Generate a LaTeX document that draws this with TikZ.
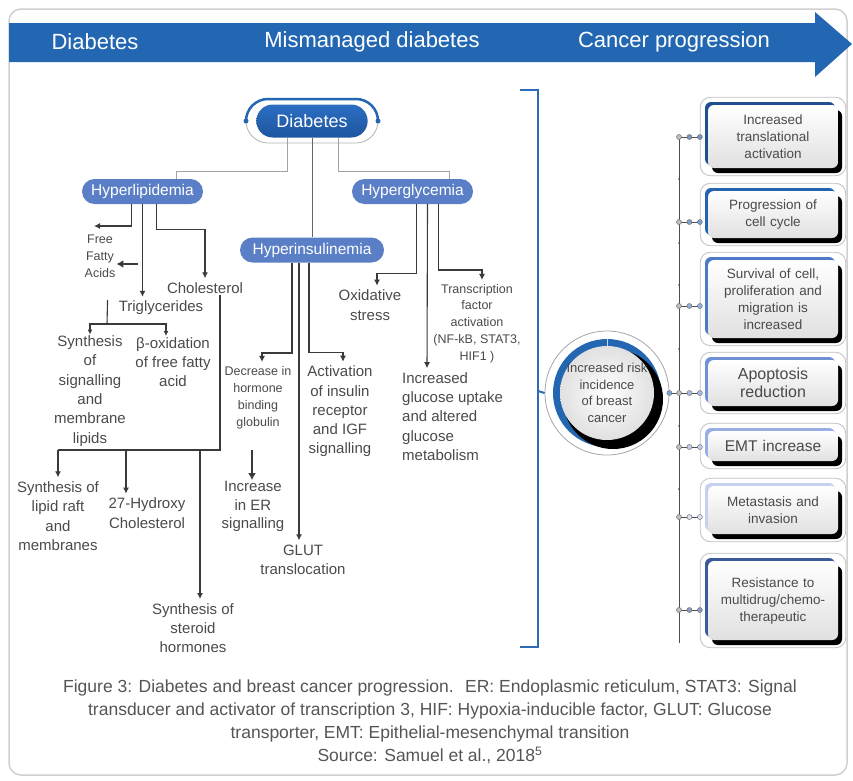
\documentclass[tikz,border=0pt]{standalone}
\usepackage{fontspec}
\setmainfont{Liberation Sans}
\usetikzlibrary{arrows.meta,shapes.misc,shadows,fit}

\definecolor{bandblue}{HTML}{2367B2}
\definecolor{pillblue}{HTML}{5B7FC6}
\definecolor{diabtop}{HTML}{2C6EC2}
\definecolor{diabbot}{HTML}{1D559F}
\definecolor{txtgray}{HTML}{4A4A4A}
\definecolor{arrgray}{HTML}{3A3A3A}
\definecolor{linkgray}{HTML}{A3A3A3}
\definecolor{brkblue}{HTML}{2D6CB5}
\definecolor{capgray}{HTML}{555555}
\definecolor{framegray}{HTML}{D0D0D0}
\definecolor{translc}{HTML}{1F4F8E}
\definecolor{cyclec}{HTML}{2563B0}
\definecolor{survc}{HTML}{4D7BC8}
\definecolor{apopc}{HTML}{6F8FD6}
\definecolor{emtc}{HTML}{98AEE4}
\definecolor{metac}{HTML}{C6D1EF}
\definecolor{resc}{HTML}{3D5A99}

\begin{document}
\begin{tikzpicture}[x=1pt, y=-1pt,
	txt/.style={text=txtgray, align=center, inner sep=1pt, font=\fontsize{15}{19.3}\selectfont},
	small/.style={txt, font=\fontsize{12.5}{17}\selectfont},
	lvl/.style={rounded rectangle, fill=pillblue, text=white, minimum height=25pt, inner sep=2pt, font=\fontsize{15.5}{18}\selectfont},
	link/.style={draw=linkgray, line width=1pt},
	line/.style={draw=arrgray, line width=1.1pt},
	arr/.style={line, -{Latex[length=6pt,width=6pt]}, shorten >=3pt},
	bold arr/.style={draw=arrgray, line width=2pt, -{Latex[length=7pt,width=8pt]}},
	effect/.style={rounded corners=6pt, text width=122pt, minimum width=130pt, align=center, inner sep=2pt,
		top color=white, bottom color=black!12, text=txtgray, font=\fontsize{13.5}{17}\selectfont,
		general shadow={fill=#1, shadow xshift=-3pt, shadow yshift=3pt},
		general shadow={fill=black, shadow xshift=4pt, shadow yshift=-5pt}},
	ring/.style={draw=black!25, line width=0.8pt, rounded corners=10pt, inner xsep=7.5pt, inner ysep=7.5pt},
	dot/.style={circle, draw=black!55, fill=#1, minimum size=5pt, inner sep=0pt, line width=0.5pt},
	tick/.style={draw=black!70, line width=0.7pt},
]
	\useasboundingbox (0,0) rectangle (853,780);
	
	% Frame and heading arrow
	\draw[framegray, line width=1.5pt, rounded corners=12pt] (9,9) rectangle (847,775);
	\fill[bandblue] (9,23) -- (815,23) -- (815,12) -- (852,44) -- (815,77) -- (815,62) -- (9,62) -- cycle;
	\node[text=white, font=\fontsize{22}{26}\selectfont] (hd1) at (95,42) {Diabetes};
	\node[text=white, font=\fontsize{22}{26}\selectfont] (hd2) at (372,42) {Mismanaged diabetes};
	\node[text=white, font=\fontsize{22}{26}\selectfont] (hd3) at (674,42) {Cancer progression};
	
	% Diabetes
	\draw[black!30, line width=0.8pt, rounded corners=22pt] (246,99) rectangle (378,143);
	\draw[bandblue, line width=2.5pt] (246,121) arc[start angle=180, end angle=270, radius=22] -- (356,99) arc[start angle=270, end angle=360, radius=22];
	\fill[bandblue] (246,121) circle (2.5pt) (378,121) circle (2.5pt);
	\node[rounded rectangle, top color=diabtop, bottom color=diabbot, minimum width=118pt, minimum height=33pt, text=white, font=\fontsize{18}{20}\selectfont] (diab) at (312,121) {Diabetes};
	
	\node[lvl, minimum width=125pt] (hlip) at (142.5,191.5) {Hyperlipidemia};
	\node[lvl, minimum width=125pt] (hgly) at (412.5,191.5) {Hyperglycemia};
	\node[lvl, minimum width=148pt] (hins) at (312,250) {Hyperinsulinemia};
	
	\draw[link] ([xshift=-25pt]diab.south) |- ([xshift=34pt,yshift=7pt]hlip.north) -- ([xshift=34pt]hlip.north);
	\draw[link, draw=black!60] (diab.south) -- (hins.north);
	\draw[link] ([xshift=26pt]diab.south) |- ([xshift=37pt,yshift=7pt]hgly.north) -- ([xshift=37pt]hgly.north);
	
	% Hyperlipidemia
	\node[small] (ffa) at (100,256) {Free\\Fatty\\Acids};
	\node[txt] (trig) at (161,308) {Triglycerides};
	\node[txt] (chol) at (205,288) {Cholesterol};
	\node[txt] (sigl) at (90,391) {Synthesis\\of\\signalling\\and\\membrane\\lipids};
	\node[txt] (boxf) at (173,362) {β-oxidation\\of free fatty\\acid};
	\node[txt] (raft) at (58,516) {Synthesis of\\lipid raft\\and\\membranes};
	\node[txt] (hydx) at (147,513) {27-Hydroxy\\Cholesterol};
	\node[txt] (ster) at (193,628) {Synthesis of\\steroid\\hormones};
	
	\coordinate (ffa-in) at (94,226);
	\coordinate (ffa-pt) at (138,264);
	\coordinate (tg-fork) at (107,324);
	\coordinate (ch-fork) at (220,450);
	\coordinate (hx-top) at (126,450);
	
	\draw[line, -{Latex[length=6pt,width=6pt]}] ([xshift=-11pt]hlip.south) |- (ffa-in);
	\draw[bold arr] (ffa-pt) -- (ffa-pt -| ffa.east);
	\draw[arr] (hlip.south) -- (hlip.south |- trig.north);
	\draw[arr] ([xshift=14pt]hlip.south) |- ([yshift=52pt]chol.north) -- (chol.north);
	
	\draw[line] ([xshift=-10pt]trig.north west) -- (tg-fork);
	\draw[line, -{Latex[length=5pt,width=5pt]}] (tg-fork) -| (sigl.north);
	\draw[line, -{Latex[length=5pt,width=5pt]}] (tg-fork) -| ([xshift=-7pt]boxf.north);
	
	\draw[line] ([xshift=15pt]chol.south) |- (ch-fork) -- (ch-fork -| raft.north);
	\draw[arr] (ch-fork -| raft.north) -- (raft.north);
	\draw[arr] (hx-top) -- (hx-top |- hydx.north);
	\draw[arr] ([xshift=-20pt]ch-fork) -- ([xshift=7pt]ster.north);
	
	% Hyperinsulinemia
	\node[small] (shbg) at (258,397.5) {Decrease in\\hormone\\binding\\globulin};
	\node[txt, font=\fontsize{15}{18.5}\selectfont] (iger) at (253,506.5) {Increase\\in ER\\signalling};
	\node[txt] (glut) at (303,559.5) {GLUT\\translocation};
	\node[txt] (igfa) at (340,411.5) {Activation\\of insulin\\receptor\\and IGF\\signalling};
	
	\coordinate (er-pt) at (252,450);
	
	\draw[arr] ([xshift=-20pt]hins.south) |- ([xshift=4pt,yshift=12pt]shbg.north) -- ([xshift=4pt]shbg.north);
	\draw[arr] ([xshift=-13pt]hins.south) -- ([xshift=-4pt]glut.north);
	\draw[arr] ([xshift=-3pt]hins.south) |- ([xshift=3pt,yshift=12pt]igfa.north) -- ([xshift=3pt]igfa.north);
	\draw[bold arr] (er-pt) -- (er-pt |- iger.north);
	
	% Hyperglycemia
	\node[txt] (oxst) at (370,305) {Oxidative\\stress};
	\node[txt, anchor=west, align=left] (gluc) at (401,416.5) {Increased\\glucose uptake\\and altered\\glucose\\metabolism};
	\node[small, font=\fontsize{12.5}{16.75}\selectfont] (tfac) at (477,323.5) {Transcription\\factor\\activation\\(NF-kB, STAT3,\\HIF1 )};
	
	\draw[arr] ([xshift=4pt]hgly.south) |- ([xshift=7pt,yshift=15pt]oxst.north) -- ([xshift=7pt]oxst.north);
	\draw[arr] ([xshift=15pt]hgly.south) -- ([xshift=26pt]gluc.north west);
	\draw[arr] ([xshift=26pt]hgly.south) |- ([xshift=5pt,yshift=13pt]tfac.north) -- ([xshift=5pt]tfac.north);
	
	% Bracket and risk circle
	\draw[brkblue, line width=2pt] (520,90) -- (538,90) -- (538,647) -- (520,647);
	\coordinate (brk) at (538,391);
	\node[circle, draw=black!35, line width=0.8pt, minimum size=124pt, inner sep=0pt] (riskring) at (607,393) {};
	\draw[brkblue, line width=2pt] (brk) -- (riskring.west);
	\fill[bandblue] (607,393) circle (54pt);
	\fill[black] (613,399) circle (50pt);
	\shade[inner color=white, outer color=black!12] (607,393) circle (47pt);
	\draw[white!75!bandblue, line width=0.6pt] (607,339) -- (607,346);
	\node[text=txtgray, align=center, inner sep=0pt, font=\fontsize{13}{16.6}\selectfont] (risk) at (607,393) {Increased risk\\incidence\\of breast\\cancer};
	
	% Timeline
	\coordinate (tl-top) at (679,135);
	\coordinate (tl-bot) at (679,643);
	\draw[tick] (tl-top) -- (tl-bot);
	\foreach \y in {179,243,285,349,426,489}
		\fill[black!70] (679,\y) circle (1pt);
	
	% Effects
	\node[effect=translc, minimum height=63pt] (b1) at (773,136.5) {Increased\\translational\\activation};
	\node[effect=cyclec, minimum height=47pt] (b2) at (773,214.5) {Progression of\\cell cycle};
	\node[effect=survc, minimum height=78pt] (b3) at (773,299) {Survival of cell,\\proliferation and\\migration is\\increased};
	\node[effect=apopc, minimum height=46pt, font=\fontsize{16}{18.5}\selectfont] (b4) at (773,383) {Apoptosis\\reduction};
	\node[effect=emtc, minimum height=30pt, font=\fontsize{15.5}{18}\selectfont] (b5) at (773,446) {EMT increase};
	\node[effect=metac, minimum height=48pt] (b6) at (773,510) {Metastasis and\\invasion};
	\node[effect=resc, minimum height=79pt] (b7) at (773,600.5) {Resistance to\\multidrug/chemo-\\therapeutic};
	
	\node[ring, fit=(b1)] (r1) {};
	\node[ring, fit=(b2)] (r2) {};
	\node[ring, fit=(b3)] (r3) {};
	\node[ring, fit=(b4)] (r4) {};
	\node[ring, fit=(b5)] (r5) {};
	\node[ring, fit=(b6)] (r6) {};
	\node[ring, fit=(b7)] (r7) {};
	
	\coordinate (c1) at (679,137);
	\coordinate (c2) at (679,222);
	\coordinate (c3) at (679,306);
	\coordinate (c5) at (679,447);
	\coordinate (c6) at (679,517);
	\coordinate (c7) at (679,610);
	
	\draw[tick] (c1) -- (c1 -| r1.west) node[dot=black!25, pos=0] {} node[dot=translc!60, pos=.5] {} node[dot=translc!60, pos=1] {};
	\draw[tick] (c2) -- (c2 -| r2.west) node[dot=black!25, pos=0] {} node[dot=cyclec!60, pos=.5] {} node[dot=cyclec!60, pos=1] {};
	\draw[tick] (c3) -- (c3 -| r3.west) node[dot=black!25, pos=0] {} node[dot=survc!60, pos=.5] {} node[dot=survc!60, pos=1] {};
	\draw[tick] (riskring.east) -- (riskring.east -| r4.west) node[dot=bandblue!60, pos=0] {} node[dot=black!25, pos=.32] {} node[dot=apopc!60, pos=.66] {} node[dot=apopc!60, pos=1] {};
	\draw[tick] (c5) -- (c5 -| r5.west) node[dot=black!25, pos=0] {} node[dot=emtc!60, pos=.5] {} node[dot=emtc!60, pos=1] {};
	\draw[tick] (c6) -- (c6 -| r6.west) node[dot=black!25, pos=0] {} node[dot=metac!60, pos=.5] {} node[dot=metac!60, pos=1] {};
	\draw[tick] (c7) -- (c7 -| r7.west) node[dot=black!25, pos=0] {} node[dot=resc!60, pos=.5] {} node[dot=resc!60, pos=1] {};
	
	% Caption
	\node[txt, text=capgray, font=\fontsize{17.5}{23}\selectfont] (cap) at (430,722) {Figure 3: Diabetes and breast cancer progression.~ ER: Endoplasmic reticulum, STAT3: Signal\\transducer and activator of transcription 3, HIF: Hypoxia-inducible factor, GLUT: Glucose\\transporter, EMT: Epithelial-mesenchymal transition\\Source: Samuel et al., 2018\textsuperscript{5}};
\end{tikzpicture}
\end{document}
